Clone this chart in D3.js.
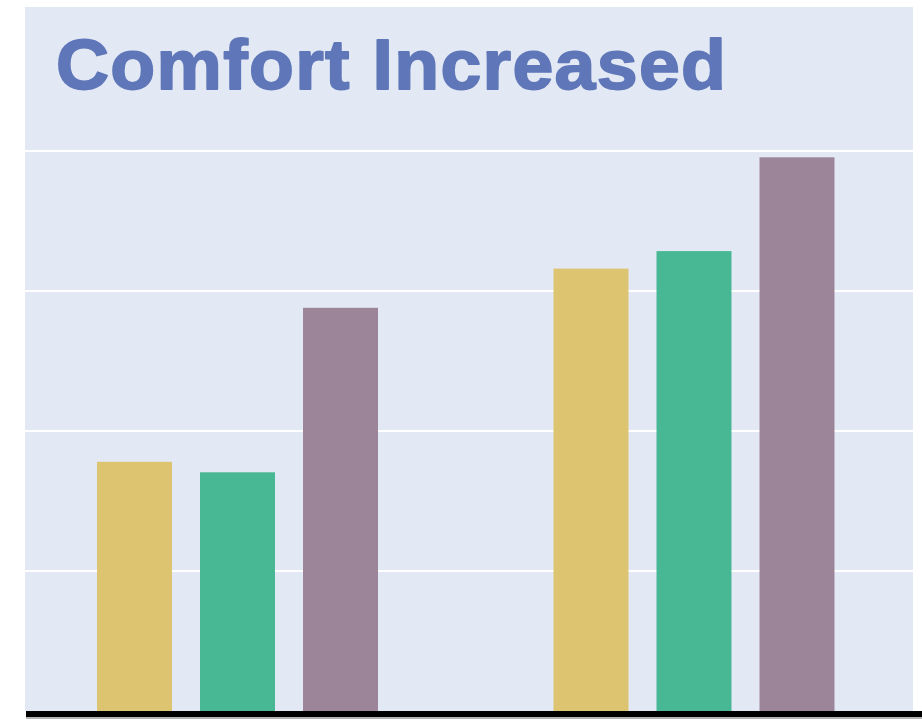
<!DOCTYPE html>
<html>
<head>
<meta charset="utf-8">
<script src="https://cdn.jsdelivr.net/npm/d3@7"></script>
<style>
  html, body { margin: 0; padding: 0; background: #ffffff; }
  svg { display: block; }
</style>
</head>
<body>
<div id="chart"></div>
<script>
// Chart data
const groups = ["Before", "After"];
const series = ["Group A", "Group B", "Group C"];
const valuesA = [35.6, 63.2];
const valuesB = [34.1, 65.7];
const valuesC = [57.6, 79.1];
const gridTicks = [20, 40, 60, 80];
const title = "Comfort Increased";

const seriesValues = [valuesA, valuesB, valuesC];
const colors = ["#dcc470", "#48b794", "#9d8599"];

const W = 922, H = 720;
const plot = { left: 25, right: 913, top: 7, bottom: 711 };

const svg = d3.select("#chart").append("svg")
  .attr("width", W).attr("height", H);

// panel background
svg.append("rect")
  .attr("x", plot.left).attr("y", plot.top)
  .attr("width", plot.right - plot.left)
  .attr("height", plot.bottom - plot.top)
  .attr("fill", "#e3e8f5");

const y = d3.scaleLinear().domain([0, 100]).range([plot.bottom, plot.bottom - 700]);

const x0 = d3.scalePoint().domain(groups)
  .range([plot.left, 906.5]).padding(0.4655);

const x1 = d3.scaleBand().domain(series)
  .range([-140.5, 140.5]).paddingInner(0.272).paddingOuter(0);

// gridlines
svg.append("g").selectAll("line").data(gridTicks).join("line")
  .attr("x1", plot.left).attr("x2", plot.right)
  .attr("y1", d => y(d)).attr("y2", d => y(d))
  .attr("stroke", "#ffffff").attr("stroke-width", 2);

// bars
const rows = [];
groups.forEach((g, gi) => series.forEach((s, si) =>
  rows.push({ group: g, series: s, si, value: seriesValues[si][gi] })));

svg.append("g").selectAll("rect").data(rows).join("rect")
  .attr("x", d => x0(d.group) + x1(d.series))
  .attr("width", x1.bandwidth())
  .attr("y", d => y(d.value))
  .attr("height", d => y(0) - y(d.value))
  .attr("fill", d => colors[d.si]);

// baseline
svg.append("line")
  .attr("x1", plot.left + 1).attr("x2", W)
  .attr("y1", y(0) + 3).attr("y2", y(0) + 3)
  .attr("stroke", "#000000").attr("stroke-width", 6);
svg.append("line")
  .attr("x1", plot.left + 1).attr("x2", W)
  .attr("y1", y(0) + 7).attr("y2", y(0) + 7)
  .attr("stroke", "#9a9a9a").attr("stroke-width", 1.5);

// title: slightly widened glyphs plus a little tracking
const sx = 1.035;
const titleText = svg.append("text")
  .attr("font-family", "'Liberation Sans', Arial, Helvetica, sans-serif")
  .attr("font-weight", "bold")
  .attr("font-size", 71)
  .attr("fill", "#5f77b8")
  .attr("stroke", "#5f77b8").attr("stroke-width", 1.8)
  .attr("stroke-linejoin", "round")
  .attr("textLength", 670 / sx).attr("lengthAdjust", "spacing")
  .attr("transform", `translate(56,89) scale(${sx},1)`)
  .text(title);
</script>
</body>
</html>
